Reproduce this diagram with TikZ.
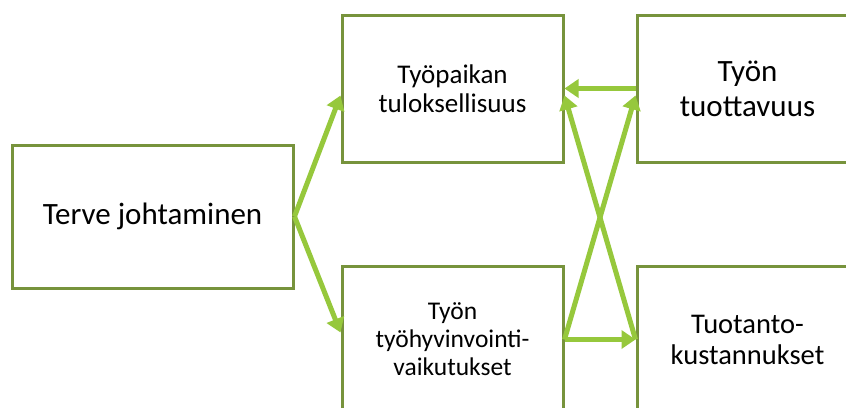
\documentclass[tikz,border=0pt]{standalone}
\usepackage{fontspec}
\setmainfont{Carlito}
\usetikzlibrary{arrows.meta}

\definecolor{boxgreen}{RGB}{119,147,60}
\definecolor{arrowgreen}{RGB}{150,200,60}

\tikzset{
    box/.style={draw=boxgreen, line width=3pt, fill=white, align=center,
        inner sep=0pt, minimum width=221pt, minimum height=147pt},
    link/.style={draw=arrowgreen, line width=5pt,
        -{Triangle[length=14pt, width=18pt]}},
}

\begin{document}
\begin{tikzpicture}[x=1pt, y=-1pt]

    % Frame of the cut-out
    \path[use as bounding box, clip] (0,0) rectangle (846,407);
    \fill[white] (0,0) rectangle (846,407);

    % Left box
    \node[box, minimum width=281pt, minimum height=143pt,
        font=\fontsize{31}{36}\selectfont] (jh) at (152.5,216.5)
        {Terve johtaminen};

    % Middle column
    \node[box, font=\fontsize{27}{29}\selectfont] (tp) at (452.5,88.5)
        {Työpaikan\\tuloksellisuus};
    \node[box, font=\fontsize{25.5}{28}\selectfont] (hv) at (452.5,339.5)
        {Työn\\työhyvinvointi-\\vaikutukset};

    % Right column
    \node[box, font=\fontsize{31}{35}\selectfont] (tt) at (747.5,88.5)
        {Työn\\tuottavuus};
    \node[box, font=\fontsize{28.5}{31}\selectfont] (tk) at (747.5,339.5)
        {Tuotanto-\\kustannukset};

    % Arrows out of the left box
    \draw[link] (jh.east) -- ([yshift=-7pt]tp.west);
    \draw[link] (jh.east) -- ([yshift=7pt]hv.west);

    % Arrows between the columns
    \draw[link] (tt.west) -- (tp.east);
    \draw[link] (hv.east) -- (tk.west);
    \draw[link] (hv.east) -- ([yshift=-7pt]tt.west);
    \draw[link] (tk.west) -- ([yshift=-7pt]tp.east);

\end{tikzpicture}
\end{document}
